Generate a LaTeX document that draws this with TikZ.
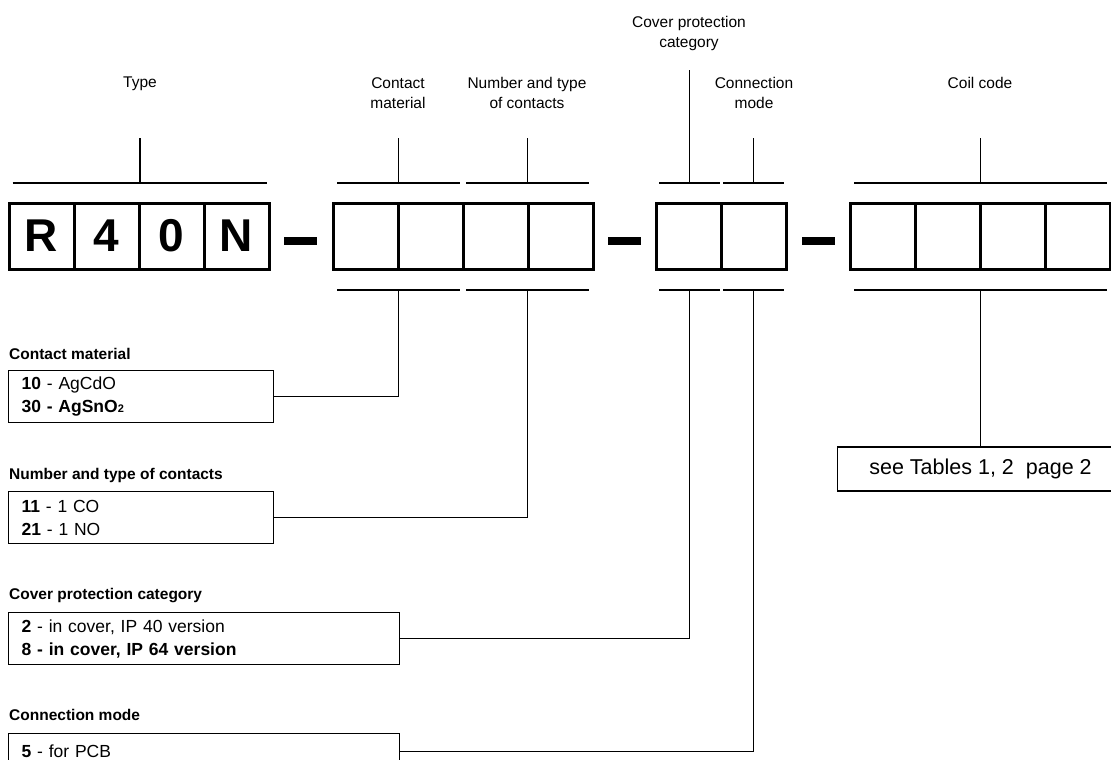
\documentclass[tikz,border=0pt]{standalone}
\usepackage{fontspec}
\setmainfont{Liberation Sans}

\tikzset{
	cell/.style={draw, line width=3pt, minimum width=65pt, minimum height=66pt, inner sep=0pt,
		font=\fontsize{46}{46}\selectfont\bfseries},
	topbar/.style={line width=2.5pt},
	botbar/.style={line width=1.5pt},
	tickline/.style={line width=1.5pt},
	lead/.style={line width=1.1pt},
	dashbar/.style={line width=8pt},
	fieldname/.style={anchor=north, align=center, inner sep=0pt, font=\fontsize{15.5}{20}\selectfont},
	head/.style={anchor=west, inner sep=0pt, font=\fontsize{15.5}{18}\selectfont\bfseries},
	codebox/.style={draw, line width=1.1pt, anchor=north west, inner xsep=13pt, inner ysep=0pt,
		minimum height=52pt, text width=#1, align=left, font=\fontsize{17.5}{23}\selectfont},
}

\begin{document}
\begin{tikzpicture}[x=1pt, y=-1pt]
		\useasboundingbox (0,0) rectangle (1111,760);
		\clip (0,0) rectangle (1111,760);

		% code cells
		\foreach \l [count=\i] in {R,4,0,N}
			\node[cell] (t\i) at ({9+65*\i-32.5},236) {\l};
		\foreach \i in {1,2}
			\node[cell] (m\i) at ({333+65*\i-32.5},236) {};
		\foreach \i in {1,2}
			\node[cell] (n\i) at ({463+65*\i-32.5},236) {};
		\node[cell] (p1) at (689,236) {};
		\node[cell] (c1) at (754,236) {};
		\foreach \i in {1,...,4}
			\node[cell] (k\i) at ({850+65*\i-32.5},236) {};

		% dashes between the groups
		\draw[dashbar] (284,240.5) -- (317,240.5);
		\draw[dashbar] (608,240.5) -- (641,240.5);
		\draw[dashbar] (802,240.5) -- (835,240.5);

		% bars above, with their ticks
		\foreach \a/\b/\y in {12.5/267/138, 337/460/138, 466/589/138, 659/720/70, 723/784/138, 854/1107/138} {
			\draw[topbar] (\a,183) -- (\b,183);
			\draw[tickline] ({(\a+\b)/2},183) -- ({(\a+\b)/2},\y);
		}

		% bars below
		\foreach \nm/\a/\b in {mat/337/460, num/466/589, cov/659/720, con/723/784, coil/854/1107} {
			\draw[botbar] (\a,290) -- (\b,290);
			\coordinate (\nm bot) at ({(\a+\b)/2},290.75);
		}

		% field names
		\node[fieldname] (typelbl) at (140,77) {Type};
		\node[fieldname] (matlbl) at (398,77) {Contact\\material};
		\node[fieldname] (numlbl) at (527,77) {Number and type\\of contacts};
		\node[fieldname] (covlbl) at (689,16) {Cover protection\\category};
		\node[fieldname] (conlbl) at (754,77) {Connection\\mode};
		\node[fieldname] (coillbl) at (980,77) {Coil code};

		% code lists
		\node[head] (mathead) at (9,354) {Contact material};
		\node[codebox=239pt] (matbox) at (8,370) {\textbf{10} - AgCdO\\\textbf{30 - AgSnO{\fontsize{11}{11}\selectfont 2}}};
		\draw[lead] (matbot) |- (matbox.east);

		\node[head] (numhead) at (9,475) {Number and type of contacts};
		\node[codebox=239pt] (numbox) at (8,491) {\textbf{11} - 1 CO\\\textbf{21} - 1 NO};
		\draw[lead] (numbot) |- (numbox.east);

		\node[head] (covhead) at (9,596) {Cover protection category};
		\node[codebox=365pt] (covbox) at (8,612) {\textbf{2} - in cover, IP 40 version\\\textbf{8 - in cover, IP 64 version}};
		\draw[lead] (covbot) |- (covbox.east);

		\node[head] (conhead) at (9,715) {Connection mode};
		\node[codebox=365pt, minimum height=36pt] (conbox) at (8,733) {\textbf{5} - for PCB};
		\draw[lead] (conbot) |- (conbox.east);

		\node[draw, line width=1.1pt, minimum width=286pt, minimum height=44pt, inner sep=0pt,
			font=\fontsize{21.5}{22}\selectfont] (coilbox) at (980.5,469) {see Tables 1, 2\ \ page 2};
		\draw[lead] (coilbot) -- (coilbox.north);

\end{tikzpicture}
\end{document}
